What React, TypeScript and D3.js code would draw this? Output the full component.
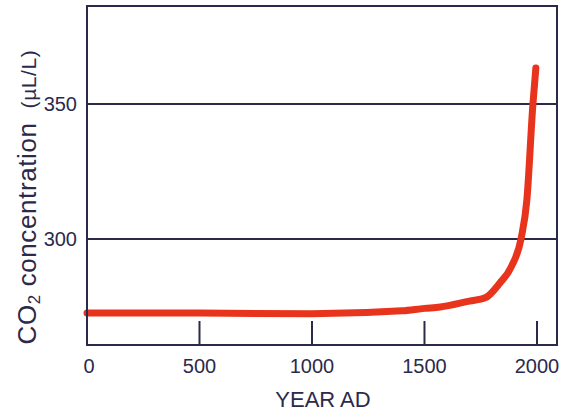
import React from "react";
import * as d3 from "d3";

const years = [0, 500, 1000, 1400, 1500, 1570, 1700, 1770, 1835, 1885, 1930, 1955, 1982, 1995];
const co2 = [272.6, 272.6, 272.3, 273.4, 274.3, 274.8, 277, 278.2, 283.7, 289.6, 300.4, 314.4, 350, 363.3];
const xTicks = [500, 1000, 1500, 2000];
const xTickLabels = ["0", "500", "1000", "1500", "2000"];
const xLabelValues = [0, 500, 1000, 1500, 2000];
const yGrid = [300, 350];

const W = 568;
const H = 417;
const left = 87, right = 557, top = 6, bottom = 345;
const ink = "#2b2a4c";
const red = "#e8341c";
const font = "'Liberation Sans', Arial, Helvetica, sans-serif";

export default function App() {
  const x = d3.scaleLinear().domain([0, 2089]).range([left, right]);
  const y = d3.scaleLinear().domain([260.74, 386.3]).range([bottom, top]);
  const pts: [number, number][] = years.map((yr, i) => [yr, co2[i]]);
  const line = d3
    .line<[number, number]>()
    .x((d) => x(d[0]))
    .y((d) => y(d[1]))
    .curve(d3.curveMonotoneX);

  return (
    <svg
      width={W}
      height={H}
      viewBox={`0 0 ${W} ${H}`}
      style={{ position: "absolute", left: 0, top: 0, background: "#fff" }}
    >
      <rect x={0} y={0} width={W} height={H} fill="#fff" />
      {yGrid.map((v) => (
        <line key={v} x1={left} x2={right} y1={y(v)} y2={y(v)} stroke={ink} strokeWidth={2} />
      ))}
      {xTicks.map((t) => (
        <line key={t} x1={x(t)} x2={x(t)} y1={bottom} y2={bottom - 24} stroke={ink} strokeWidth={2} />
      ))}
      <path d={line(pts) || ""} fill="none" stroke={red} strokeWidth={7} strokeLinecap="round" strokeLinejoin="round" />
      <rect x={left} y={top} width={right - left} height={bottom - top} fill="none" stroke={ink} strokeWidth={2} />
      {yGrid.map((v) => (
        <text key={v} x={77} y={y(v) + 7} textAnchor="end" fontFamily={font} fontSize={20} fill={ink}>
          {v}
        </text>
      ))}
      {xLabelValues.map((v, i) => (
        <text key={v} x={x(v) + (v === 0 ? 2 : 0)} y={373} textAnchor="middle" fontFamily={font} fontSize={20} fill={ink}>
          {xTickLabels[i]}
        </text>
      ))}
      <text x={323} y={407} textAnchor="middle" fontFamily={font} fontSize={22} fill={ink}>
        YEAR AD
      </text>
      <text
        transform={`translate(36, 197) rotate(-90)`}
        textAnchor="middle"
        fontFamily={font}
        fontSize={26}
        letterSpacing={0.6}
        fill={ink}
      >
        CO
        <tspan fontSize={17} dy={4}>2</tspan>
        <tspan dy={-4}> concentration</tspan>
        <tspan fontSize={21} dx={14}>(µL/L)</tspan>
      </text>
    </svg>
  );
}
